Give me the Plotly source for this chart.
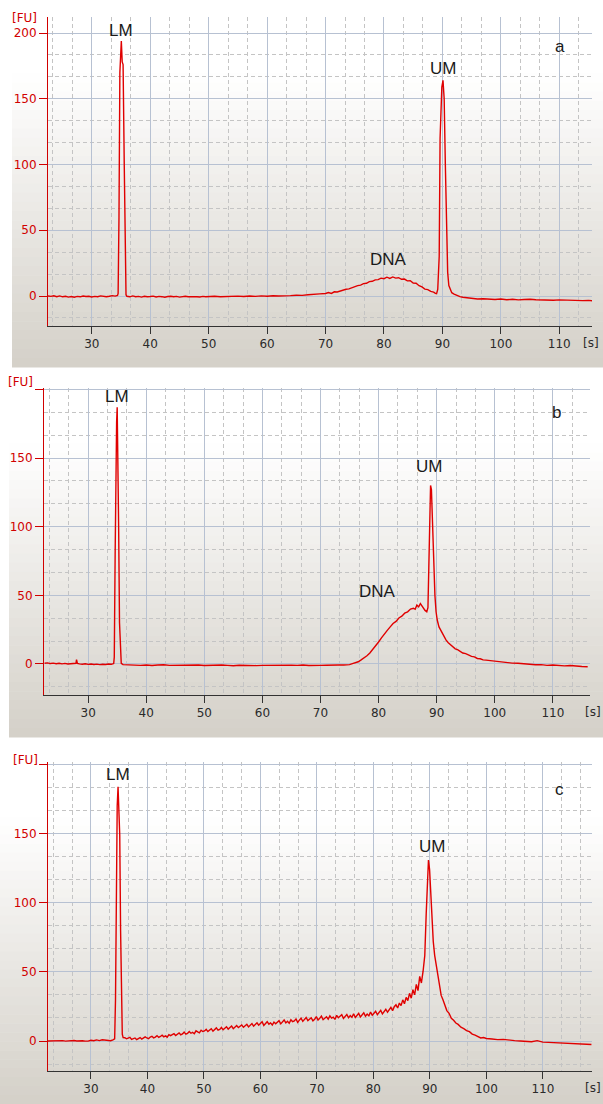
import plotly.graph_objects as go

# ---------------- data ----------------
x_ticks = [30, 40, 50, 60, 70, 80, 90, 100, 110]
y_ticks = [0, 50, 100, 150, 200]
y_ticktext_a = ["0", "50", "100", "150", "200"]
y_ticktext_bc = ["0", "50", "100", "150", ""]

# panel a
a_time = [22.5, 23, 23.5, 24, 24.5, 25, 25.5, 26, 26.5, 27, 27.5, 28, 28.5, 29, 29.5, 30, 30.5, 31, 31.5, 32,
          32.5, 33, 33.5, 34, 34.4,
          34.5, 34.65, 34.8, 34.9, 35.05, 35.2, 35.35, 35.55, 35.7, 35.85,
          36, 36.5, 37, 37.5, 38, 38.5, 39, 39.5, 40, 40.5, 41, 41.5, 42, 42.5, 43, 43.5, 44, 44.5, 45, 45.5,
          46, 46.5, 47, 47.5, 48, 48.5, 49, 49.5, 50, 51, 52, 53, 54, 55, 56, 57, 58, 59, 60, 61, 62, 63, 64, 65,
          66, 67, 68, 69, 70, 70.5, 71, 71.5, 72, 72.5, 73, 73.5, 74, 74.5, 75, 75.5, 76, 76.5, 77, 77.5, 78,
          78.5, 79, 79.5, 80, 80.5, 81, 81.5, 82, 82.5, 83, 83.5, 84, 84.5, 85, 85.5, 86, 86.5, 87, 87.5, 88,
          88.5, 88.8, 89.0,
          89.2, 89.45, 89.6, 89.8, 89.9, 90.1, 90.3, 90.5, 90.7, 90.9, 91.1, 91.3,
          91.6, 92, 92.5, 93, 93.5, 94, 94.5, 95, 95.5, 96, 97, 98, 99, 100, 101, 102, 103, 104, 105, 106, 107,
          108, 109, 110, 111, 112, 113, 114, 115, 115.6]
a_fu = [0.0, -0.3, 0.2, -0.5, 0.1, -0.6, -0.2, -0.8, -0.4, -0.9, -0.3, -0.6, 0.0, -0.4, -0.2, -0.7, -0.3, -0.5,
        0.1, -0.4, -0.6, -0.2, 0.3, -0.1, 0.5,
        2, 60, 170, 181, 194, 178, 176, 100, 20, 1,
        -0.2, -0.6, 0.1, -0.5, -0.3, -0.8, -0.2, -0.6, -0.4, -0.1, -0.7, -0.3, -0.5, -0.9, -0.4, -0.2, -0.6,
        -0.3, -0.8, -0.4, -0.2, -0.6, -0.5, -0.1, -0.5, -0.7, -0.3, -0.6, -0.4, -0.2, -0.6, -0.3, -0.5, -0.1,
        -0.4, 0.0, -0.3, 0.1, -0.2, 0.2, 0.0, 0.4, 0.3, 0.6,
        0.5, 1.0, 1.1, 1.6, 1.9, 2.6, 2.0, 3.2, 3.1, 3.9, 4.2, 5.1, 5.4, 6.3, 6.8, 7.9, 8.3, 9.4, 9.7, 11.0,
        11.2, 12.3, 12.5, 13.6, 13.2, 14.3, 13.4, 14.5, 13.6, 13.9, 12.7, 12.9, 11.5, 11.6, 9.9, 9.7, 7.8, 6.9,
        5.2, 4.9, 3.5, 3.0, 2.0, 1.8, 5,
        30, 120, 158, 159, 164, 150, 100, 50, 18, 8, 5, 2.5,
        1.5, 0.3, -0.5, -0.9, -1.2, -1.6, -1.8, -2.0, -2.3, -2.1, -2.4, -2.6, -2.3, -2.8, -2.5, -2.9, -2.6,
        -2.4, -2.8, -3.0, -2.7, -3.2, -2.9, -3.1, -3.4, -3.2, -3.5, -3.3, -3.6, -3.8]

# panel b
b_time = [22.5, 23, 23.5, 24, 24.5, 25, 25.5, 26, 26.5, 27, 27.5, 27.9, 28.0, 28.15, 28.5, 29, 29.5, 30, 30.5,
          31, 31.5, 32, 32.5, 33, 33.5, 34, 34.4,
          34.5, 34.65, 34.8, 34.9, 35.0, 35.1, 35.25, 35.4, 35.55, 35.7,
          36, 37, 38, 39, 40, 41, 42, 43, 44, 45, 46, 47, 48, 49, 50, 51, 52, 53, 54, 55, 56, 57, 58, 59, 60,
          61, 62, 63, 64, 65, 66, 67, 68, 69, 70, 71, 72, 73, 74,
          75, 75.5, 76, 76.5, 77, 77.5, 78, 78.5, 79, 79.5, 80, 80.5, 81, 81.5, 82, 82.5, 83, 83.5, 84, 84.5,
          85, 85.5, 86, 86.3, 86.6, 86.9, 87.2, 87.6, 88.0, 88.3, 88.5,
          88.65, 88.8, 88.95, 89.1, 89.3, 89.5, 89.7, 89.9, 90.1, 90.4, 90.8, 91.2, 91.6, 92.0, 92.4, 92.8,
          93.2, 93.6, 94, 94.5, 95, 95.5, 96, 96.5, 97, 97.5, 98, 98.5, 99, 100, 101, 102, 103, 104, 105, 106,
          107, 108, 109, 110, 111, 112, 113, 114, 115, 116]
b_fu = [0.5, 0.8, 0.3, 0.6, 0.2, 0.5, 0.1, 0.4, 0.0, 0.3, 0.2, 0.5, 3.2, 0.4, 0.1, -0.2, 0.1, -0.3, 0.0,
        -0.4, -0.1, -0.5, -0.2, -0.4, 0.0, -0.2, 0.3,
        5, 80, 175, 176, 187, 160, 100, 30, 5, 0.5,
        -0.5, -0.8, -0.6, -1.0, -0.7, -1.1, -0.8, -0.6, -1.0, -0.9, -1.2, -0.8, -1.0, -0.7, -1.1, -0.9, -1.2,
        -0.8, -1.0, -1.3, -0.9, -1.1, -0.8, -1.2, -1.0, -0.9, -1.2, -0.8, -1.1, -0.9, -1.0, -0.7, -1.1, -0.8,
        -1.0, -0.9, -0.6, -0.8, -0.7,
        -0.5, 0.2, 0.8, 1.6, 3.0, 4.2, 6.0, 8.0, 10.5, 13, 16, 19, 22, 24.5, 27, 29.5, 31, 33.5, 34.8, 37.0,
        38, 40.0, 40.6, 39.8, 43, 41.6, 44, 41, 39, 38, 41,
        70, 115, 130, 127, 100, 70, 50, 38, 32, 27, 24, 20, 17.5, 15.5, 14, 12.5, 11,
        10.5, 9.5, 8, 7.5, 6.5, 5.5, 5.2, 4, 3.8, 3, 2.8, 2.5, 2, 1.5, 1.2, 0.6, 0.5, 0, -0.3, -0.6, -0.5,
        -1.0, -0.8, -1.2, -1.4, -1.1, -1.6, -1.8, -2.0]

# panel c
c_head_time = [22.4, 23, 23.5, 24, 24.5, 25, 25.5, 26, 26.5, 27, 27.5, 28, 28.5, 29, 29.5, 30, 30.5, 31, 31.5,
               32, 32.5, 33, 33.5, 33.9, 34.2,
               34.35, 34.5, 34.65, 34.8, 34.95, 35.1, 35.25, 35.4, 35.55, 35.7]
c_head_fu = [0.0, 0.1, -0.2, 0.2, 0.0, 0.3, -0.1, 0.2, 0.1, 0.4, 0.0, 0.3, 0.2, -0.1, -0.1, 0.5, 0.2, 0.8, 0.3,
             0.9, 0.5, 0.6, 0.2, 0.8, 1.5,
             30, 120, 170, 184, 160, 149, 80, 20, 5, 2.5]
# noisy smear between the markers, read every 0.3 s from 36.0 s to 88.8 s
c_mid_fu = [2.4, 1.6, 1.9, 2.7, 1.2, 1.5, 2.2, 1.0, 1.8, 2.5,
            1.4, 2.1, 3.0, 2.2, 1.7, 2.9, 3.4, 2.3, 2.8, 3.9,
            2.6, 3.3, 4.2, 3.0, 3.7, 2.8, 4.6, 3.9, 4.4, 5.3,
            4.0, 4.8, 5.9, 4.5, 5.1, 6.4, 4.9, 5.5, 6.8, 5.6,
            6.2, 5.3, 7.4, 6.6, 5.9, 7.8, 6.9, 7.3, 8.4, 6.8,
            7.7, 8.9, 7.1, 8.2, 9.5, 7.9, 8.4, 9.8, 8.1, 9.2,
            10.3, 8.6, 9.4, 10.8, 8.9, 9.9, 11.2, 9.7, 10.4, 11.6,
            9.9, 10.8, 12.1, 10.2, 11.5, 12.6, 10.7, 11.8, 13.2, 11.4,
            12.4, 13.9, 11.3, 12.8, 14.0, 12.2, 13.1, 11.6, 13.7, 12.5,
            13.4, 14.7, 12.4, 13.9, 15.2, 13.1, 14.3, 12.8, 15.4, 14.0,
            14.6, 16.0, 13.5, 15.1, 16.5, 14.2, 15.6, 17.0, 14.8, 15.9,
            16.8, 14.6, 15.7, 17.6, 15.2, 16.4, 18.0, 15.4, 16.8, 17.5,
            15.8, 18.2, 16.6, 17.3, 15.6, 18.6, 16.9, 17.8, 19.1, 16.4,
            17.5, 19.2, 16.8, 18.4, 17.2, 19.7, 17.0, 18.6, 20.0, 17.4,
            18.8, 20.4, 17.9, 19.5, 18.2, 20.9, 18.6, 19.8, 21.5, 19.0,
            20.3, 22.2, 19.6, 21.6, 23.0, 20.8, 22.5, 24.3, 22.0, 24.8,
            26.2, 23.9, 27.5, 25.6, 29.8, 27.0, 31.6, 29.2, 34.5, 31.0,
            37.2, 33.4, 41.0, 36.5, 46.8, 42.0, 50.5]
c_mid_time = [round(36.0 + 0.3 * i, 1) for i in range(len(c_mid_fu))]
c_tail_time = [89.1, 89.35, 89.55, 89.75, 89.95, 90.15, 90.35, 90.6, 90.85, 91.1, 91.4, 91.7, 92.0, 92.3,
               92.6, 93.0, 93.4, 93.8, 94.2, 94.6, 95.0, 95.5, 96.0, 96.5, 97, 97.5, 98, 98.5, 99, 99.5, 100,
               101, 102, 103, 104, 105, 106, 107, 108, 109, 110, 111, 112, 113, 114, 115, 116, 117, 118, 118.6]
c_tail_fu = [62, 92, 118, 131, 124, 105, 88, 72, 62, 55, 47, 40, 33, 30, 27, 22, 20, 16.5, 15, 13, 12, 10, 9,
             7.5, 6.8, 5, 4.2, 3, 2.2, 2.5, 1.8, 1.5, 1.0, 1.2, 0.5, 0.3, 0.0, -0.2, -0.5, 0.3, -0.8, -1.0,
             -1.2, -1.0, -1.5, -1.6, -1.9, -2.0, -2.2, -2.5]
c_time = c_head_time + c_mid_time + c_tail_time
c_fu = c_head_fu + c_mid_fu + c_tail_fu

# ---------------- layout helpers ----------------
W, H = 603, 1104
RED = "#d10000"
LINE = "#e00000"


def px(xp):
    return xp / W


def py(yp):
    return 1 - yp / H


panels = [
    dict(k="", xd=(48, 592), yd=(17, 326), xr=(22.5, 115.6), yr=(-22.8, 212.2), bg=(12, 0, 603, 367),
         tt=y_ticktext_a),
    dict(k="2", xd=(44, 590), yd=(388, 695), xr=(22.4, 116.4), yr=(-22.6, 201.0), bg=(9, 370, 603, 737),
         tt=y_ticktext_bc),
    dict(k="3", xd=(48, 592), yd=(762, 1071), xr=(22.4, 118.7), yr=(-21.7, 201.9), bg=(0, 745, 603, 1104),
         tt=y_ticktext_bc),
]

fig = go.Figure()
series = [(a_time, a_fu), (b_time, b_fu), (c_time, c_fu)]
for p, (t, v) in zip(panels, series):
    fig.add_trace(go.Scatter(x=t, y=v, mode="lines", line=dict(color=LINE, width=1.4),
                             xaxis="x" + p["k"], yaxis="y" + p["k"], hoverinfo="skip", showlegend=False))

shapes = []
top_c = (255, 255, 255)
bot_c = (212, 208, 200)
N = 40
for p in panels:
    x0, y0, x1, y1 = p["bg"]
    for i in range(N):
        f = (i + 0.5) / N
        g = 0 if f < 0.2 else (f - 0.2) / 0.8
        col = tuple(int(round(top_c[j] + (bot_c[j] - top_c[j]) * g)) for j in range(3))
        ya = y0 + (y1 - y0) * i / N
        yb = y0 + (y1 - y0) * (i + 1) / N + 0.6
        shapes.append(dict(type="rect", xref="paper", yref="paper", layer="below",
                           x0=px(x0), x1=px(x1), y0=py(yb), y1=py(ya),
                           line=dict(width=0), fillcolor="rgb(%d,%d,%d)" % col))

layout = dict(width=W, height=H, margin=dict(l=0, r=0, t=0, b=0),
              paper_bgcolor="white", plot_bgcolor="rgba(0,0,0,0)", shapes=shapes, showlegend=False)

for p in panels:
    k = p["k"]
    layout["xaxis" + k] = dict(
        domain=[px(p["xd"][0]), px(p["xd"][1])], range=list(p["xr"]), anchor="y" + k,
        tickmode="array", tickvals=x_ticks, ticks="outside", ticklen=7, tickcolor="#333",
        showline=True, linecolor="#333", linewidth=1, zeroline=False,
        showgrid=True, gridcolor="#b7c1d2", gridwidth=1,
        minor=dict(tickmode="linear", tick0=0, dtick=10 / 3, showgrid=True, gridcolor="#c4c4c4",
                   griddash="4px,3px", gridwidth=1, ticks=""),
        tickfont=dict(family="DejaVu Sans", size=12, color="#2a2a2a"), fixedrange=True)
    layout["yaxis" + k] = dict(
        domain=[py(p["yd"][1]), py(p["yd"][0])], range=list(p["yr"]), anchor="x" + k,
        tickmode="array", tickvals=y_ticks, ticktext=p["tt"], ticks="outside", ticklen=8, tickcolor=RED,
        showline=True, linecolor=RED, linewidth=1, zeroline=False,
        showgrid=True, gridcolor="#b7c1d2", gridwidth=1,
        minor=dict(tickmode="linear", tick0=0, dtick=50 / 3, showgrid=True, gridcolor="#c4c4c4",
                   griddash="4px,3px", gridwidth=1, ticks=""),
        tickfont=dict(family="DejaVu Sans", size=12, color=RED), fixedrange=True)

fig.update_layout(**layout)

lab_font = dict(family="Liberation Sans, Arial", size=17, color="#1a1a1a")
ann = []


def add_label(text, x, y, k):
    ann.append(dict(text=text, x=x, y=y, xref="x" + k, yref="y" + k, showarrow=False,
                    xanchor="center", yanchor="middle", font=lab_font))


add_label("LM", 35.0, 202, "")
add_label("UM", 90.1, 173, "")
add_label("DNA", 80.7, 27.5, "")
add_label("a", 110.1, 190, "")
add_label("LM", 35.0, 194.5, "2")
add_label("UM", 88.6, 144, "2")
add_label("DNA", 79.8, 52.5, "2")
add_label("b", 110.7, 183.5, "2")
add_label("LM", 34.8, 193, "3")
add_label("UM", 90.3, 140.5, "3")
add_label("c", 113.0, 182, "3")

unit_font_r = dict(family="DejaVu Sans", size=12, color=RED)
unit_font_k = dict(family="DejaVu Sans", size=12, color="#2a2a2a")
for (fx, fy), (sx, sy) in [((24.5, 18), (591, 343)), ((20.5, 382), (593, 712)), ((25.5, 760), (593, 1088))]:
    ann.append(dict(text="[FU]", x=px(fx), y=py(fy), xref="paper", yref="paper", showarrow=False,
                    xanchor="center", yanchor="middle", font=unit_font_r))
    ann.append(dict(text="[s]", x=px(sx), y=py(sy), xref="paper", yref="paper", showarrow=False,
                    xanchor="center", yanchor="middle", font=unit_font_k))

fig.update_layout(annotations=ann)
fig.write_html("out.html")
